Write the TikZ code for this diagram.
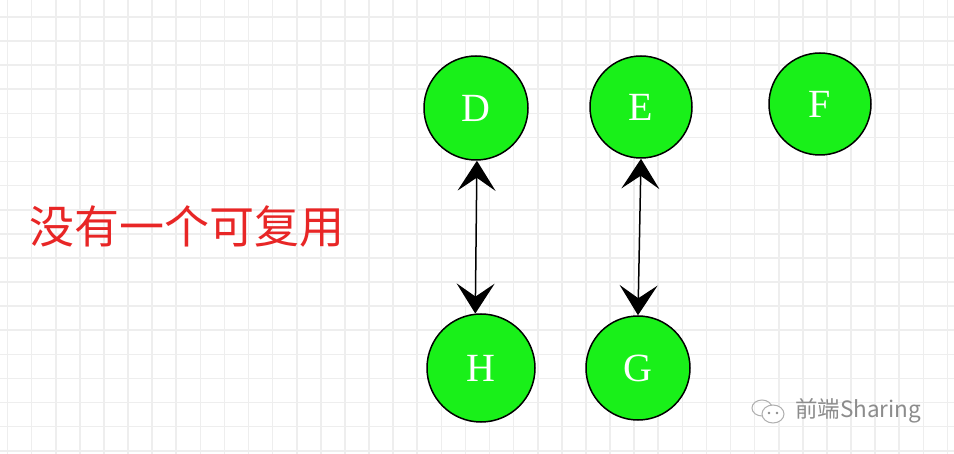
\documentclass[tikz,border=0pt]{standalone}
\usepackage{fontspec}
\setmainfont{Liberation Serif}
\newfontfamily\cjk{Noto Sans CJK SC}
\usetikzlibrary{arrows.meta}
\definecolor{gridc}{RGB}{238,238,238}
\definecolor{nodegreen}{RGB}{25,240,25}
\definecolor{labred}{RGB}{232,38,38}
\definecolor{wm}{RGB}{140,140,140}
\tikzset{
  gridline/.style={draw=gridc, line width=1.6pt},
  ball/.style={circle, draw=black, line width=1.5pt, fill=nodegreen, minimum size=104pt, inner sep=0pt,
    text=white, font=\fontsize{40}{40}\selectfont},
  link/.style={line width=1.5pt, draw=black, {Stealth[length=30pt,width=38pt,inset=13pt]}-{Stealth[length=30pt,width=38pt,inset=13pt]}},
  note/.style={text=labred, font=\cjk\fontsize{45}{45}\selectfont, inner sep=0pt},
  wmtext/.style={text=wm, font=\cjk\fontsize{22.5}{22.5}\selectfont, inner sep=0pt, anchor=west},
  wmline/.style={draw=wm!70, line width=1pt}
}
\begin{document}
\begin{tikzpicture}[x=1pt,y=-1pt]
\useasboundingbox (0,0) rectangle (954,454);
\fill[white] (0,0) rectangle (954,454);
\foreach \i in {0,...,39} \draw[gridline] (7.5+24.1*\i,0) -- (7.5+24.1*\i,454);
\foreach \j in {0,...,18} \draw[gridline] (0,17+24.1*\j) -- (954,17+24.1*\j);

\node[ball] (D) at (476,108) {D};
\node[ball, minimum size=102pt] (E) at (641,107) {E};
\node[ball, minimum size=102pt] (F) at (820,104) {F};
\node[ball, minimum size=108pt] (H) at (481,368) {H};
\node[ball] (G) at (638,368) {G};

\draw[link] (D.-89) -- (H.96);
\draw[link] (E.south) -- (G.north);

\node[note] (T) at (187,226) {没有一个可复用};

% watermark
\coordinate (W) at (768,410);
\draw[wmline] ([shift={(-6,-2)}]W) ellipse [x radius=10pt, y radius=8pt];
\draw[wmline, fill=white] ([shift={(5,4)}]W) ellipse [x radius=11pt, y radius=9pt];
\fill[wm] ([shift={(1,3)}]W) circle (1.3pt);
\fill[wm] ([shift={(9,3)}]W) circle (1.3pt);
\node[wmtext] (M) at (795,411) {前端Sharing};
\end{tikzpicture}
\end{document}
